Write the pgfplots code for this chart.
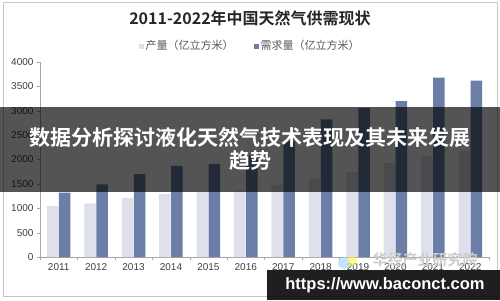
\documentclass[border=0pt]{standalone}
\usepackage{fontspec}
\setmainfont{Liberation Sans}
\newfontfamily\cjk[BoldFont={Noto Sans CJK SC Bold}]{Noto Sans CJK SC}
\usepackage{pgfplots}
\pgfplotsset{compat=1.18}
\definecolor{lightbar}{HTML}{DEE1EB}
\definecolor{darkbar}{HTML}{6A7EA8}
\definecolor{txt}{HTML}{404040}
\begin{document}
\begin{tikzpicture}[x=1pt,y=1pt]
\path[use as bounding box] (0,0) rectangle (500,300);
\fill[white] (0,0) rectangle (500,300);
\draw[gray!45, line width=0.8pt] (3.5,3.5) rectangle (497,298);
\node[font=\cjk\bfseries\fontsize{16}{18}\selectfont, text=black!85] at (250,282) {2011-2022年中国天然气供需现状};
\begin{axis}[
  at={(40pt,43pt)}, anchor=south west,
  scale only axis, width=449pt, height=195pt,
  xmin=-0.5, xmax=11.5, ymin=0, ymax=4000,
  ytick={0,500,...,4000},
  xtick={0,...,11},
  xticklabels={2011,2012,2013,2014,2015,2016,2017,2018,2019,2020,2021,2022},
  minor xtick={-0.5,0.5,...,11.5},
  major x tick style={draw=none},
  minor x tick style={draw=gray!70},
  ytick style={draw=gray!70},
  tick align=outside, major tick length=3pt, minor tick length=3pt,
  axis x line*=bottom, axis y line*=left,
  axis line style={gray!70,-},
  tick label style={font=\fontsize{10}{12}\selectfont, text=txt},
  /pgf/number format/assume math mode=true,
  /pgf/number format/1000 sep={},
  ylabel style={draw=none},
  legend style={at={(0.468,1)}, anchor=center, yshift=16pt, draw=none, fill=none,
    font=\cjk\fontsize{11}{13}\selectfont, text=black!65, legend columns=2,
    /tikz/every even column/.append style={column sep=18pt}},
  legend image code/.code={\fill[#1] (0pt,-2.5pt) rectangle (5pt,2.5pt);},
]
\addplot[ybar, bar width=11.5pt, bar shift=-6pt, fill=lightbar, draw=none]
 coordinates {(0,1046) (1,1100) (2,1210) (3,1290) (4,1330) (5,1369) (6,1480) (7,1602) (8,1745) (9,1925) (10,2076) (11,2178)};
\addlegendentry{产量（亿立方米）}
\addplot[ybar, bar width=11.5pt, bar shift=6pt, fill=darkbar, draw=none]
 coordinates {(0,1320) (1,1490) (2,1700) (3,1867) (4,1910) (5,2078) (6,2373) (7,2825) (8,3056) (9,3200) (10,3680) (11,3620)};
\addlegendentry{需求量（亿立方米）}
\end{axis}
% watermark
\fill[blue!40!cyan!40, opacity=0.6] (344,37) circle (6);
\fill[yellow!70, opacity=0.6] (352,39) circle (5);
\node[font=\cjk\bfseries\fontsize{15}{17}\selectfont, text=gray!40] at (425,40) {华经产业研究院};
% overlay band
\fill[black, opacity=0.67] (0,108) rectangle (500,193);
\node[font=\cjk\bfseries\fontsize{21}{23}\selectfont, text=white, align=center] at (250,151.5) {数据分析探讨液化天然气技术表现及其未来发展\\趋势};
% url box
\fill[black, opacity=0.88] (267,0) rectangle (500,30);
\node[font=\bfseries\fontsize{16.5}{18}\selectfont, text=white] at (385,15) {https://www.baconct.com};
\end{tikzpicture}
\end{document}
